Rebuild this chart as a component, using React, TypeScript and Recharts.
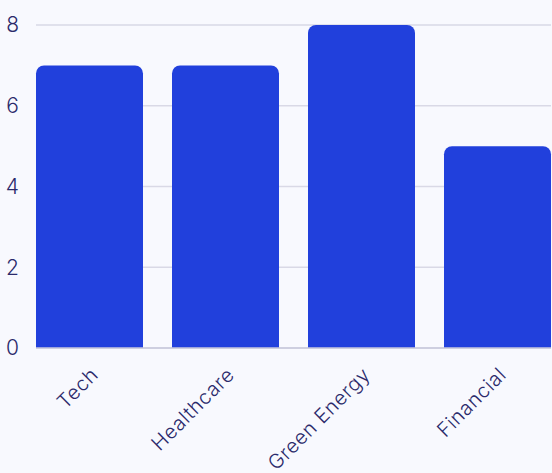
import React from "react";
import { BarChart, Bar, XAxis, YAxis, CartesianGrid } from "recharts";

const categories = ["Tech", "Healthcare", "Green Energy", "Financial"];
const counts = [7, 7, 8, 5];
const yTicks = [0, 2, 4, 6, 8];

const data = categories.map((name, i) => ({ name, value: counts[i] }));

const FONT = "Inter, 'Noto Sans', sans-serif";
const TEXT = "#2b2a6b";

export default function App() {
  return (
    <div
      style={{
        position: "absolute",
        left: 0,
        top: 0,
        width: 552,
        height: 473,
        background: "#f8f9fe",
        overflow: "hidden",
        fontFamily: FONT,
      }}
    >
      <BarChart
        width={552}
        height={473}
        data={data}
        margin={{ top: 25, right: 1, bottom: 0, left: 0 }}
        barCategoryGap={14.5}
      >
        <CartesianGrid vertical={false} stroke="#d9d9e6" strokeWidth={1.5} />
        <XAxis
          dataKey="name"
          height={125}
          padding={{ left: -14.5, right: -14.5 }}
          axisLine={{ stroke: "#c9c9dc", strokeWidth: 1.5 }}
          tickLine={false}
          tickSize={6}
          tickMargin={12}
          angle={-45}
          textAnchor="end"
          interval={0}
          tick={{ fill: TEXT, fontSize: 20, fontFamily: FONT, fontWeight: 300, letterSpacing: 0.6 }}
        />
        <YAxis
          width={36}
          domain={[0, 8]}
          ticks={yTicks}
          axisLine={false}
          tickLine={false}
          tickSize={6}
          tickMargin={11}
          tick={{ fill: TEXT, fontSize: 21, fontFamily: FONT, fontWeight: 300 }}
        />
        <Bar dataKey="value" fill="#2140dc" radius={[8, 8, 0, 0]} isAnimationActive={false} />
      </BarChart>
    </div>
  );
}
